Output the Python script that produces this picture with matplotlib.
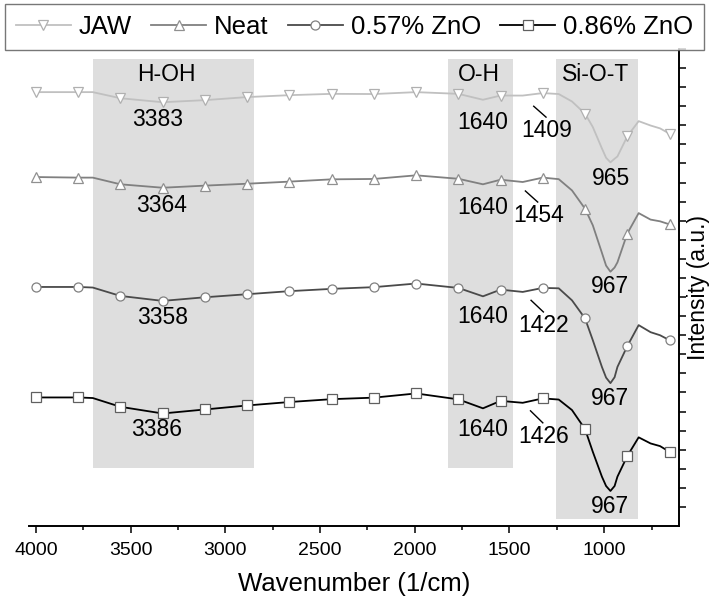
import numpy as np
import matplotlib
matplotlib.use("Agg")
import matplotlib.pyplot as plt
from matplotlib.patches import Rectangle

plt.rcParams['font.family'] = ['Liberation Sans', 'DejaVu Sans']

# wavenumber grid (1/cm) the values were read at
wn = [4000, 3777, 3700, 3554, 3331, 3108, 2885, 2662, 2439, 2216, 1993, 1770,
      1640, 1547, 1430, 1324, 1240, 1170, 1101, 1060, 1012, 990, 967, 945, 930,
      878, 818, 755, 705, 655]

# offset spectra (a.u.)
jaw = [21.74, 21.74, 21.74, 21.42, 21.21, 21.32, 21.48, 21.58, 21.65, 21.64, 21.74, 21.65,
       21.34, 21.56, 21.56, 21.69, 21.64, 21.25, 20.61, 19.91, 18.79, 18.30, 18.06, 18.25, 18.37,
       19.42, 20.22, 19.99, 19.84, 19.56]
neat = [17.29, 17.26, 17.26, 16.91, 16.73, 16.84, 16.94, 17.05, 17.17, 17.19, 17.38, 17.20,
        16.91, 17.15, 17.03, 17.26, 17.18, 16.59, 15.63, 14.76, 13.32, 12.65, 12.33, 12.55, 12.82,
        14.33, 15.40, 15.06, 14.97, 14.81]
zno057 = [11.53, 11.53, 11.50, 11.06, 10.80, 10.99, 11.15, 11.31, 11.43, 11.52, 11.71, 11.48,
          11.04, 11.39, 11.27, 11.48, 11.46, 10.83, 9.88, 8.74, 7.34, 6.78, 6.49, 6.80, 7.34,
          8.43, 9.53, 9.16, 9.00, 8.74]
zno086 = [5.74, 5.74, 5.71, 5.25, 4.90, 5.11, 5.32, 5.50, 5.65, 5.73, 5.95, 5.64,
          5.17, 5.56, 5.46, 5.69, 5.63, 5.08, 4.08, 2.89, 1.59, 1.10, 0.84, 1.10, 1.59,
          2.67, 3.65, 3.33, 3.19, 2.89]

marker_wn = [4000, 3777, 3554, 3331, 3108, 2885, 2662, 2439, 2216, 1993, 1770,
             1547, 1324, 1101, 878, 655]

labels = ["JAW", "Neat", "0.57% ZnO", "0.86% ZnO"]
series = [jaw, neat, zno057, zno086]
colors = ["#c0c0c0", "#808080", "#4a4a4a", "#000000"]
edges = ["#b0b0b0", "#909090", "#808080", "#606060"]
markers = ["v", "^", "o", "s"]

# shaded bands: (from, to, bottom, top)
bands = [(3701, 2850, 2.04, 23.49), (1827, 1479, 2.04, 23.49), (1257, 819, -0.63, 23.49)]
band_names = ["H-OH", "O-H", "Si-O-T"]
band_name_x = [3311, 1663, 1043]

# peak annotations
peak_text = ["3383", "3364", "3358", "3386",
             "1640", "1640", "1640", "1640",
             "1409", "1454", "1422", "1426",
             "965", "967", "967", "967"]
peak_x = [3360, 3337, 3332, 3363,
          1641, 1641, 1641, 1641,
          1303, 1345, 1321, 1321,
          964, 969, 969, 969]
peak_y = [20.29, 15.81, 9.93, 4.07,
          20.17, 15.72, 9.96, 4.07,
          19.73, 15.28, 9.53, 3.68,
          17.20, 11.53, 5.69, 0.02]
# little pointer lines for the shoulder peaks
ptr_x = [(1372, 1307), (1416, 1351), (1386, 1321), (1389, 1324)]
ptr_y = [(21.00, 20.43), (16.56, 15.98), (10.83, 10.22), (5.04, 4.41)]

fig = plt.figure(figsize=(7.1, 5.98), dpi=100)
ax = fig.add_axes([29.3 / 710, 1 - 525.5 / 598, (679 - 29.3) / 710, (525.5 - 49) / 598])

for x0, x1, y0, y1 in bands:
    ax.add_patch(Rectangle((x1, y0), x0 - x1, y1 - y0, facecolor="#dedede",
                           edgecolor="none", zorder=0))

idx = list(np.where(np.isin(wn, marker_wn))[0])
for ys, lab, c, ec, m in zip(series, labels, colors, edges, markers):
    ax.plot(wn, ys, color=c, lw=1.3, marker=m, markevery=idx, ms=6.5,
            mfc="white", mec=ec, mew=0.9, label=lab, zorder=3)

for name, bx in zip(band_names, band_name_x):
    ax.text(bx, 22.66, name, fontsize=16.5, ha="center", va="center", zorder=4)

for t, x, y in zip(peak_text, peak_x, peak_y):
    ax.text(x, y, t, fontsize=16.5, ha="center", va="center", zorder=4)

for px, py in zip(ptr_x, ptr_y):
    ax.plot(px, py, color="black", lw=1.0, zorder=4)

ax.set_xlim(4035, 605)
ax.set_ylim(-0.97, 24)
ax.set_xticks([4000, 3500, 3000, 2500, 2000, 1500, 1000])
ax.set_xticks(np.arange(750, 4000, 500), minor=True)
ax.set_yticks(np.arange(0, 25))
ax.set_yticklabels([])

ax.spines["top"].set_visible(False)
ax.spines["left"].set_visible(False)
ax.spines["bottom"].set_linewidth(1.4)
ax.spines["right"].set_linewidth(1.4)
ax.yaxis.tick_right()
ax.yaxis.set_label_position("right")
ax.tick_params(axis="x", which="major", direction="out", length=5, width=1.1,
               labelsize=14, pad=7)
ax.tick_params(axis="x", which="minor", direction="out", length=3, width=1.1)
ax.tick_params(axis="y", which="major", direction="out", length=5, width=1.1, right=True, left=False)

ax.set_xlabel("Wavenumber (1/cm)", fontsize=18.5, labelpad=9)
ax.set_ylabel("Intensity (a.u.)", fontsize=16.5, labelpad=-2.5)

leg = fig.legend(loc="upper center", bbox_to_anchor=(354.5 / 710, 1 - 4 / 598), ncol=4,
                 fontsize=18.5, frameon=True, fancybox=False, edgecolor="#555555",
                 handlelength=2.15, handletextpad=0.3, columnspacing=0.75,
                 borderpad=0.42, borderaxespad=0, numpoints=1)
leg.get_frame().set_linewidth(1.0)

fig.savefig("out.png", dpi=100)
